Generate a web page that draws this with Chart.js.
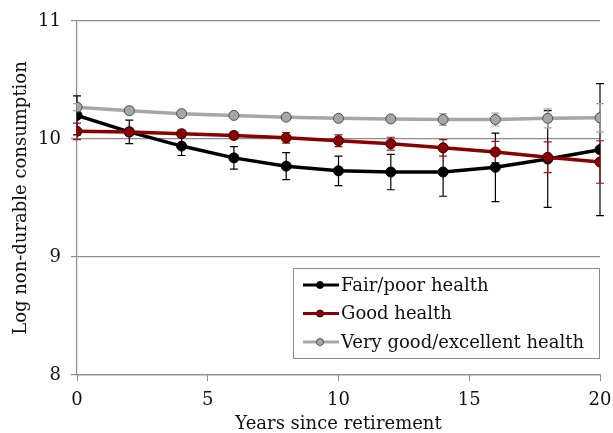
<!DOCTYPE html>
<html>
<head>
<meta charset="utf-8">
<script src="https://cdn.jsdelivr.net/npm/chart.js@4/dist/chart.umd.min.js"></script>
<style>
  html, body { margin: 0; padding: 0; background: #fff; }
  #wrap { width: 613px; height: 433px; }
</style>
</head>
<body>
<div id="wrap"><canvas id="c" width="613" height="433"></canvas></div>
<script>
// Years since retirement
const years = [0, 2, 4, 6, 8, 10, 12, 14, 16, 18, 20];

// Mean log non-durable consumption by self-reported health, with half-width of the confidence band
const fairPoor    = [10.20, 10.06, 9.94, 9.84, 9.77, 9.73, 9.72, 9.72, 9.76, 9.83, 9.91];
const fairPoorErr = [0.165, 0.10, 0.08, 0.095, 0.115, 0.125, 0.15, 0.205, 0.29, 0.41, 0.56];

const good    = [10.065, 10.06, 10.045, 10.03, 10.01, 9.985, 9.96, 9.925, 9.89, 9.845, 9.805];
const goodErr = [0.07, 0.03, 0.03, 0.03, 0.045, 0.05, 0.055, 0.07, 0.09, 0.13, 0.18];

const veryGood    = [10.27, 10.24, 10.215, 10.20, 10.185, 10.175, 10.17, 10.165, 10.165, 10.175, 10.18];
const veryGoodErr = [0.03, 0.03, 0.02, 0.02, 0.02, 0.02, 0.025, 0.05, 0.055, 0.08, 0.12];

const seriesLabels = ['Fair/poor health', 'Good health', 'Very good/excellent health'];

const FONT = '"DejaVu Serif", "Liberation Serif", serif';
const FONT_SIZE = 18;
const AXIS_GREY = '#8c8c8c';

function points(ys) { return years.map((x, i) => ({ x: x, y: ys[i] })); }

const styles = [
  { line: '#000000', fill: '#000000', border: '#000000', err: '#000000' },
  { line: '#8b0000', fill: '#8b0000', border: '#3a0000', err: '#a01010' },
  { line: '#a6a6a6', fill: '#a6a6a6', border: '#4d4d4d', err: '#a6a6a6' }
];
const values = [fairPoor, good, veryGood];
const errors = [fairPoorErr, goodErr, veryGoodErr];

const datasets = values.map((v, k) => ({
  label: seriesLabels[k],
  data: points(v),
  errors: errors[k],
  borderColor: styles[k].line,
  backgroundColor: styles[k].fill,
  pointBackgroundColor: styles[k].fill,
  pointBorderColor: styles[k].border,
  pointBorderWidth: 1,
  pointRadius: 5,
  borderWidth: 3.5,
  tension: 0,
  order: 3 - k,
  errColor: styles[k].err
}));

// Vertical error bars with short caps, drawn beneath the lines and markers
const errorBars = {
  id: 'errorBars',
  beforeDatasetsDraw(chart) {
    const ctx = chart.ctx;
    const xs = chart.scales.x, ys = chart.scales.y;
    ctx.save();
    chart.data.datasets.forEach(ds => {
      ctx.strokeStyle = ds.errColor;
      ctx.lineWidth = 1.2;
      ds.data.forEach((p, i) => {
        const e = ds.errors[i];
        const px = xs.getPixelForValue(p.x);
        const top = ys.getPixelForValue(p.y + e);
        const bot = ys.getPixelForValue(p.y - e);
        ctx.beginPath();
        ctx.moveTo(px, top); ctx.lineTo(px, bot);
        ctx.moveTo(px - 4, top); ctx.lineTo(px + 4, top);
        ctx.moveTo(px - 4, bot); ctx.lineTo(px + 4, bot);
        ctx.stroke();
      });
    });
    ctx.restore();
  }
};

// Boxed legend in the lower right of the plot area
const boxLegend = {
  id: 'boxLegend',
  afterDraw(chart) {
    const ctx = chart.ctx;
    const area = chart.chartArea;
    const w = 306, h = 90;
    const left = area.right - w - 1, top = 268;
    ctx.save();
    ctx.fillStyle = '#ffffff';
    ctx.fillRect(left, top, w, h);
    ctx.strokeStyle = '#8c8c8c';
    ctx.lineWidth = 1;
    ctx.strokeRect(left + 0.5, top + 0.5, w, h);
    ctx.font = FONT_SIZE + 'px ' + FONT;
    ctx.textBaseline = 'middle';
    ctx.textAlign = 'left';
    chart.data.datasets.forEach((ds, k) => {
      const cy = top + 17 + k * 28.5;
      ctx.strokeStyle = ds.borderColor;
      ctx.lineWidth = 3;
      ctx.beginPath();
      ctx.moveTo(left + 10, cy); ctx.lineTo(left + 46, cy);
      ctx.stroke();
      ctx.beginPath();
      ctx.arc(left + 27, cy, 3.5, 0, Math.PI * 2);
      ctx.fillStyle = ds.pointBackgroundColor;
      ctx.fill();
      ctx.lineWidth = 1;
      ctx.strokeStyle = ds.pointBorderColor;
      ctx.stroke();
      ctx.fillStyle = '#111111';
      ctx.fillText(ds.label, left + 48, cy + 1);
    });
    ctx.restore();
  }
};

new Chart(document.getElementById('c'), {
  type: 'line',
  data: { datasets: datasets },
  plugins: [errorBars, boxLegend],
  options: {
    responsive: false,
    animation: false,
    layout: { padding: { left: 0, right: 13, top: 21, bottom: 0 } },
    plugins: { legend: { display: false }, tooltip: { enabled: false } },
    scales: {
      x: {
        type: 'linear',
        min: 0, max: 20,
        ticks: { stepSize: 5, color: '#111', font: { family: FONT, size: FONT_SIZE }, padding: 9, maxRotation: 0 },
        grid: { drawOnChartArea: false, drawTicks: true, tickLength: 6, color: AXIS_GREY },
        border: { color: AXIS_GREY, width: 1.2 },
        title: { display: true, text: 'Years since retirement', color: '#111', font: { family: FONT, size: FONT_SIZE }, padding: { top: 0, bottom: -2 } },
        afterFit(scale) { scale.height = 58; scale.paddingLeft = 0; scale.paddingRight = 0; }
      },
      y: {
        min: 8, max: 11,
        ticks: { stepSize: 1, color: '#111', font: { family: FONT, size: FONT_SIZE }, padding: 10 },
        grid: { color: AXIS_GREY, lineWidth: 1.2, tickLength: 6 },
        border: { color: AXIS_GREY, width: 1.2 },
        title: { display: true, text: 'Log non-durable consumption', color: '#111', font: { family: FONT, size: FONT_SIZE }, padding: { top: 11, bottom: 0 } },
        afterFit(scale) { scale.width = 77; scale.paddingTop = 0; scale.paddingBottom = 0; }
      }
    }
  }
});
</script>
</body>
</html>
